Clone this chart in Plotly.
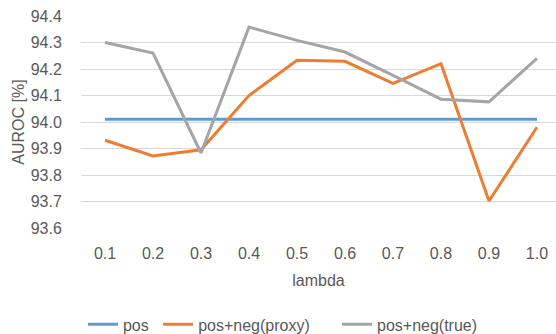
import plotly.graph_objects as go

lambdas = ["0.1", "0.2", "0.3", "0.4", "0.5", "0.6", "0.7", "0.8", "0.9", "1.0"]
pos = [94.01] * 10
pos_neg_proxy = [93.931, 93.872, 93.895, 94.100, 94.233, 94.229, 94.146, 94.220, 93.702, 93.980]
pos_neg_true = [94.300, 94.260, 93.883, 94.358, 94.308, 94.264, 94.176, 94.086, 94.076, 94.240]
y_ticks = [93.6, 93.7, 93.8, 93.9, 94.0, 94.1, 94.2, 94.3, 94.4]

FONT = "Liberation Sans"
TXT = "#595959"
FS = 16
NB = "\u00a0"

fig = go.Figure()
fig.add_trace(go.Scatter(x=lambdas, y=pos, mode="lines", name="pos" + NB,
                         line=dict(color="#5b9bd5", width=3)))
fig.add_trace(go.Scatter(x=lambdas, y=pos_neg_proxy, mode="lines", name="pos+neg(proxy)" + NB * 5,
                         line=dict(color="#ed7d31", width=3)))
fig.add_trace(go.Scatter(x=lambdas, y=pos_neg_true, mode="lines", name="pos+neg(true)",
                         line=dict(color="#a5a5a5", width=3)))

fig.update_layout(
    width=556, height=334,
    margin=dict(l=81, r=0, t=16, b=106, autoexpand=False),
    paper_bgcolor="white", plot_bgcolor="white",
    font=dict(family=FONT, size=FS, color=TXT),
    legend=dict(orientation="h", x=0.004, xanchor="left", y=-0.455, yanchor="middle",
                font=dict(family=FONT, size=FS, color=TXT), itemwidth=30),
    xaxis=dict(type="category", range=[-0.5, 9.396], showgrid=False, zeroline=False,
               showline=False, ticks="outside", ticklen=11, tickcolor="rgba(0,0,0,0)",
               automargin=False,
               tickfont=dict(family=FONT, size=FS, color=TXT),
               title=dict(text="lambda", font=dict(family=FONT, size=FS, color=TXT), standoff=13)),
    yaxis=dict(range=[93.6, 94.4], tickvals=y_ticks, ticktext=[f"{v:.1f}" for v in y_ticks],
               showgrid=True, gridcolor="#d9d9d9", gridwidth=1, zeroline=False, showline=False,
               ticks="outside", ticklen=15, tickcolor="rgba(0,0,0,0)", automargin=False,
               tickfont=dict(family=FONT, size=FS, color=TXT),
               title=dict(text="AUROC [%]", font=dict(family=FONT, size=FS, color=TXT), standoff=2)),
)

fig.write_html("out.html", config={"displayModeBar": False},
               post_script="document.body.style.margin='0';")
